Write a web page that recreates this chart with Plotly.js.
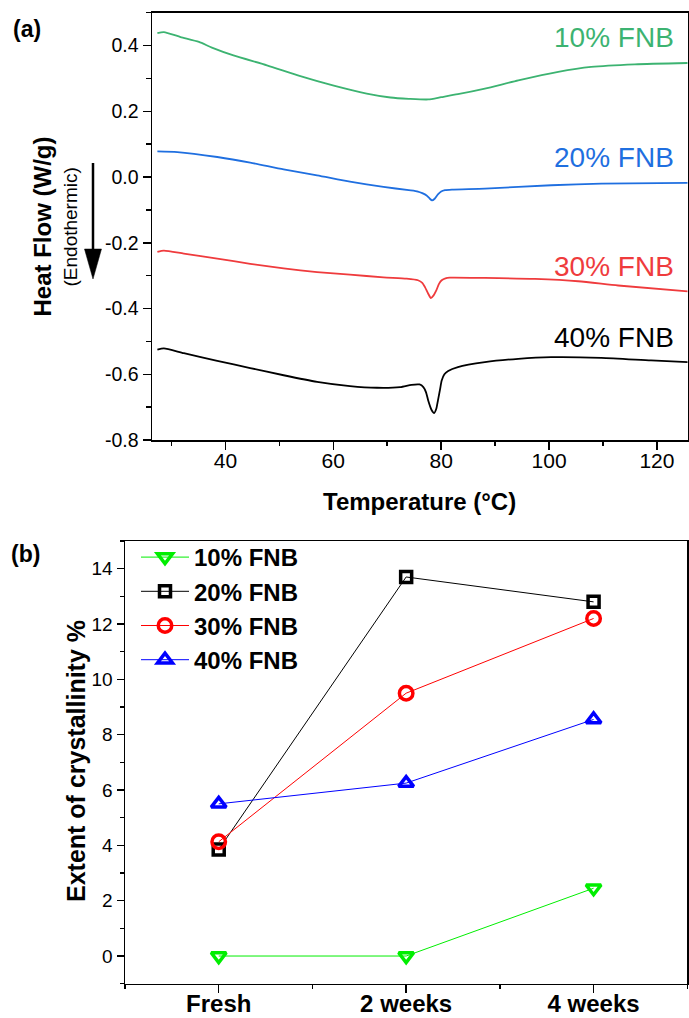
<!DOCTYPE html>
<html>
<head>
<meta charset="utf-8">
<script src="https://cdn.plot.ly/plotly-3.0.1.min.js"></script>
<style>
  html, body { margin: 0; padding: 0; background: #fff; }
  #chart { width: 689px; height: 1018px; }
</style>
</head>
<body>
<div id="chart"></div>
<script>
// ---------- (a) DSC thermograms: temperature (°C) vs heat flow (W/g) ----------
const t10  = [27.4, 28.6, 31.7, 35.1, 37.5, 41.5, 47.7, 53.9, 60.1, 66.2, 70.6, 74.0, 77.6, 80.0, 83.1, 88.1, 94.3, 101.7, 107.8, 115.9, 125.7];
const hf10 = [0.438, 0.441, 0.426, 0.411, 0.394, 0.370, 0.340, 0.307, 0.278, 0.254, 0.242, 0.238, 0.236, 0.243, 0.252, 0.269, 0.294, 0.320, 0.335, 0.343, 0.347];

const t20  = [27.4, 31.1, 38.5, 44.6, 50.8, 57.0, 63.1, 69.3, 74.0, 75.7, 76.5, 77.3, 77.9, 78.3, 78.8, 79.4, 80.0, 80.7, 82.0, 88.1, 100.4, 109.7, 125.7];
const hf20 = [0.078, 0.076, 0.061, 0.044, 0.023, 0.005, -0.014, -0.030, -0.040, -0.044, -0.049, -0.056, -0.066, -0.071, -0.066, -0.053, -0.044, -0.040, -0.038, -0.035, -0.025, -0.020, -0.018];

const t30  = [27.4, 28.6, 32.3, 38.5, 44.6, 50.8, 57.0, 63.1, 69.3, 73.6, 75.7, 76.5, 77.0, 77.6, 78.1, 78.6, 79.1, 79.6, 80.1, 80.8, 81.6, 88.1, 97.4, 105.4, 112.8, 125.7];
const hf30 = [-0.228, -0.224, -0.233, -0.248, -0.264, -0.278, -0.289, -0.297, -0.305, -0.309, -0.314, -0.322, -0.335, -0.355, -0.368, -0.360, -0.345, -0.325, -0.314, -0.308, -0.306, -0.307, -0.310, -0.317, -0.330, -0.348];

const t40  = [27.4, 28.6, 32.3, 38.5, 44.6, 50.8, 57.0, 63.1, 68.1, 72.4, 74.5, 76.0, 76.7, 77.2, 77.6, 78.2, 78.7, 79.1, 79.4, 79.8, 80.1, 80.6, 81.3, 83.1, 88.1, 94.3, 100.4, 109.7, 118.9, 125.7];
const hf40 = [-0.525, -0.521, -0.536, -0.559, -0.581, -0.603, -0.623, -0.636, -0.641, -0.639, -0.632, -0.631, -0.639, -0.655, -0.680, -0.708, -0.718, -0.705, -0.680, -0.645, -0.619, -0.600, -0.590, -0.578, -0.563, -0.553, -0.548, -0.550, -0.558, -0.563];

const dscLabels = ['10% FNB', '20% FNB', '30% FNB', '40% FNB'];
const dscColors = ['#3cb371', '#1f6fe0', '#ef3b3d', '#000000'];
const dscLabelY = [0.426, 0.061, -0.273, -0.488];

const hfTickVals = [-0.8, -0.6, -0.4, -0.2, 0.0, 0.2, 0.4];
const hfTickText = ['-0.8', '-0.6', '-0.4', '-0.2', '0.0', '0.2', '0.4'];
const hfMinorVals = [-0.7, -0.5, -0.3, -0.1, 0.1, 0.3, 0.5];

// ---------- (b) Extent of crystallinity (%) over storage time ----------
const storage = ['Fresh', '2 weeks', '4 weeks'];
const cryst10 = [0.0, 0.0, 2.45];
const cryst20 = [3.85, 13.7, 12.8];
const cryst30 = [4.13, 9.5, 12.2];
const cryst40 = [5.5, 6.25, 8.55];

const crystNames   = ['10% FNB', '20% FNB', '30% FNB', '40% FNB'];
const crystColors  = ['#00ee00', '#000000', '#ff0000', '#0000ff'];
const crystSymbols = ['triangle-down-open', 'square-open', 'circle-open', 'triangle-up-open'];
const crystSizes   = [13, 11, 13.5, 13];

// ---------- traces ----------
const FONT = 'Liberation Sans, Arial, Helvetica, sans-serif';
const dscT  = [t10, t20, t30, t40];
const dscHF = [hf10, hf20, hf30, hf40];

const traces = [];
dscT.forEach((t, i) => {
  traces.push({
    x: t, y: dscHF[i], type: 'scatter', mode: 'lines',
    line: { color: dscColors[i], width: 1.8, shape: 'spline', smoothing: 0.6 },
    xaxis: 'x', yaxis: 'y', showlegend: false, hoverinfo: 'skip'
  });
});

const storageIdx = storage.map((_, i) => i);
[cryst10, cryst20, cryst30, cryst40].forEach((vals, i) => {
  traces.push({
    x: storageIdx, y: vals, type: 'scatter', mode: 'lines+markers',
    name: crystNames[i],
    line: { color: crystColors[i], width: 1 },
    marker: { symbol: crystSymbols[i], size: crystSizes[i], color: crystColors[i],
              line: { color: crystColors[i], width: 3.5 } },
    xaxis: 'x2', yaxis: 'y2', cliponaxis: false
  });
});

// ---------- layout helpers (pixel -> paper) ----------
const W = 689, H = 1018;
const px = v => v / W;
const py = v => 1 - v / H;

const axisCommon = {
  showgrid: false, zeroline: false, showline: true, linecolor: '#000', linewidth: 1.5,
  mirror: true, ticks: 'outside', tickcolor: '#000', tickwidth: 1.5, ticklen: 8
};

const annotations = dscLabels.map((txt, i) => ({
  text: txt, xref: 'x', yref: 'y', x: 123.6, y: dscLabelY[i],
  xanchor: 'right', yanchor: 'middle', showarrow: false,
  font: { family: FONT, size: 28, color: dscColors[i] }
}));

annotations.push(
  { text: '<b>(a)</b>', xref: 'paper', yref: 'paper', x: px(26.7), y: py(28.8),
    xanchor: 'center', yanchor: 'middle', showarrow: false,
    font: { family: FONT, size: 23, color: '#000' } },
  { text: '<b>(b)</b>', xref: 'paper', yref: 'paper', x: px(25), y: py(554),
    xanchor: 'center', yanchor: 'middle', showarrow: false,
    font: { family: FONT, size: 23, color: '#000' } },
  { text: '<b>Heat Flow (W/g)</b>', xref: 'paper', yref: 'paper', x: px(42), y: py(226.5),
    xanchor: 'center', yanchor: 'middle', textangle: -90, showarrow: false,
    font: { family: FONT, size: 24, color: '#000' } },
  { text: '(Endothermic)', xref: 'paper', yref: 'paper', x: px(70), y: py(227.5),
    xanchor: 'center', yanchor: 'middle', textangle: -90, showarrow: false,
    font: { family: FONT, size: 19, color: '#000' } },
  { text: '<b>Temperature (°C)</b>', xref: 'paper', yref: 'paper', x: px(420), y: py(501),
    xanchor: 'center', yanchor: 'middle', showarrow: false,
    font: { family: FONT, size: 24, color: '#000' } },
  { text: '<b>Extent of crystallinity %</b>', xref: 'paper', yref: 'paper', x: px(76), y: py(761),
    xanchor: 'center', yanchor: 'middle', textangle: -90, showarrow: false,
    font: { family: FONT, size: 25, color: '#000' } }
);

// downward "endothermic" arrow beside the heat-flow axis title
const shapes = [
  { type: 'line', xref: 'paper', yref: 'paper',
    x0: px(93), x1: px(93), y0: py(163), y1: py(256),
    line: { color: '#000', width: 2.5 } },
  { type: 'path', xref: 'paper', yref: 'paper',
    path: `M${px(84.5)},${py(249)} L${px(101.5)},${py(249)} L${px(93)},${py(279)} Z`,
    fillcolor: '#000', line: { color: '#000', width: 0.5 } }
];

const layout = {
  width: W, height: H,
  margin: { l: 0, r: 0, t: 0, b: 0 },
  paper_bgcolor: '#fff', plot_bgcolor: '#fff',
  font: { family: FONT, color: '#000' },
  xaxis: Object.assign({}, axisCommon, {
    domain: [px(152), px(687.7)], anchor: 'y',
    range: [26.4, 125.7], tick0: 0, dtick: 20, ticklabelstandoff: -7,
    minor: { dtick: 10, tick0: 0, ticks: 'outside', ticklen: 4.5, tickwidth: 1.5, tickcolor: '#000' },
    tickfont: { family: FONT, size: 21, color: '#000' }
  }),
  yaxis: Object.assign({}, axisCommon, {
    domain: [py(440), py(12.7)], anchor: 'x',
    range: [-0.8, 0.5], tickmode: 'array', tickvals: hfTickVals, ticktext: hfTickText,
    minor: { tickmode: 'array', tickvals: hfMinorVals, ticks: 'outside', ticklen: 4.5, tickwidth: 1.5, tickcolor: '#000' },
    tickfont: { family: FONT, size: 19.5, color: '#000' }
  }),
  xaxis2: Object.assign({}, axisCommon, {
    domain: [px(125), px(687.3)], anchor: 'y2',
    range: [-0.5, 2.5], tickmode: 'array', tickvals: storageIdx, ticktext: storage.map(s => '<b>' + s + '</b>'),
    ticklabelstandoff: -10,
    minor: { tickmode: 'array', tickvals: [-0.5, 0.5, 1.5, 2.5], ticks: 'outside', ticklen: 4, tickwidth: 1.5, tickcolor: '#000' },
    tickfont: { family: FONT, size: 24, color: '#000' }
  }),
  yaxis2: Object.assign({}, axisCommon, {
    domain: [py(983.7), py(541)], anchor: 'x2',
    range: [-1, 15], tick0: 0, dtick: 2, ticklen: 7,
    minor: { dtick: 1, tick0: 0, ticks: 'outside', ticklen: 4, tickwidth: 1.5, tickcolor: '#000' },
    tickfont: { family: FONT, size: 19, color: '#000' }
  }),
  showlegend: true,
  legend: {
    x: px(136), y: py(535), xanchor: 'left', yanchor: 'top',
    bgcolor: 'rgba(0,0,0,0)', borderwidth: 0,
    itemwidth: 48, tracegroupgap: 0,
    font: { family: FONT, size: 24, color: '#000', weight: 'bold' }
  },
  annotations: annotations,
  shapes: shapes
};

Plotly.newPlot('chart', traces, layout, { displayModeBar: false, staticPlot: true });
</script>
</body>
</html>
